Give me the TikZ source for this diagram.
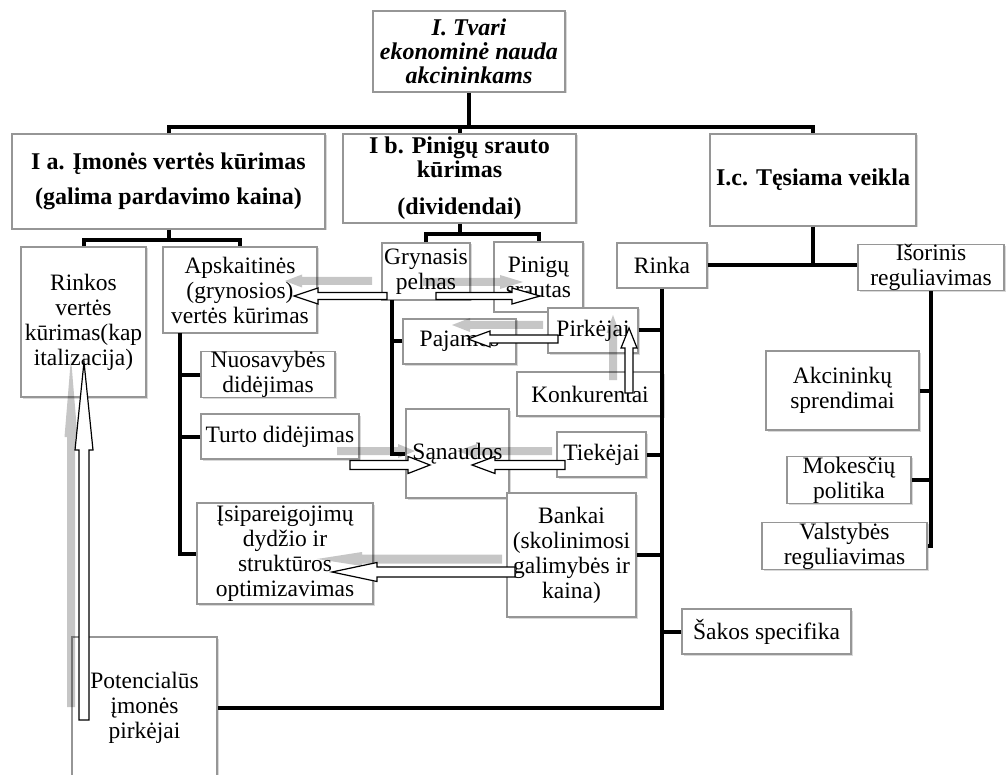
\documentclass[tikz,border=0pt]{standalone}
\usepackage{fontspec}
\setmainfont{Liberation Serif}
\usetikzlibrary{shadows}
\definecolor{greyarr}{RGB}{198,198,198}
\definecolor{boxline}{RGB}{150,150,150}
\newcommand{\rtxt}{\fontsize{23.5}{25}\selectfont}
\newcommand{\htxt}{\fontsize{24}{24}\selectfont\bfseries}
\newcommand{\harr}[7]{\path[#1] (#2,#5-#6) -- (#3,#5-#6) -- (#3,#5-#7) -- (#4,#5) -- (#3,#5+#7) -- (#3,#5+#6) -- (#2,#5+#6) -- cycle;}
\newcommand{\varr}[7]{\path[#1] (#5-#6,#2) -- (#5-#6,#3) -- (#5-#7,#3) -- (#5,#4) -- (#5+#7,#3) -- (#5+#6,#3) -- (#5+#6,#2) -- cycle;}
\tikzset{
  box/.style={draw=boxline, line width=1.2pt, fill=white, inner sep=0pt, align=center, font=\rtxt,
    drop shadow={shadow xshift=1.5pt, shadow yshift=-1.5pt, opacity=0.3}},
  hbox/.style={box, font=\htxt},
  conn/.style={line width=4pt, black, line join=miter},
  garrow/.style={fill=greyarr, blend mode=multiply},
  warrow/.style={draw=black, fill=white, line width=1.2pt, line join=miter}
}
\begin{document}
\begin{tikzpicture}[x=1pt,y=-1pt]
\useasboundingbox (0,0) rectangle (1006,775);
% nodes
\node[hbox, font=\htxt\itshape, minimum width=192pt, minimum height=81pt] (top) at (469,51.5) {I. Tvari\\ekonominė nauda\\akcininkams};
\node[hbox, minimum width=313pt, minimum height=95pt] (Ia) at (168.5,181.5) {I a. Įmonės vertės kūrimas\\[11pt](galima pardavimo kaina)};
\node[hbox, minimum width=233pt, minimum height=89pt] (Ib) at (459.5,178.5) {I b. Pinigų srauto\\kūrimas\\[13pt](dividendai)};
\node[hbox, minimum width=206pt, minimum height=92pt] (Ic) at (813,180) {I.c. Tęsiama veikla};
\node[box, minimum width=125pt, minimum height=150pt] (Rinkos) at (83.5,322) {Rinkos\\vertės\\kūrimas(kap\\italizacija)};
\node[box, minimum width=154pt, minimum height=86pt] (Apsk) at (240,290) {Apskaitinės\\(grynosios)\\vertės kūrimas};
\node[box, minimum width=134pt, minimum height=45pt] (Nuos) at (268,374.5) {Nuosavybės\\didėjimas};
\node[box, minimum width=158pt, minimum height=45pt] (Turto) at (280,436.5) {Turto didėjimas};
\node[box, minimum width=176pt, minimum height=101pt] (Isip) at (285,553.5) {Įsipareigojimų\\dydžio ir\\struktūros\\optimizavimas};
\node[box, minimum width=145pt, minimum height=142pt] (Pot) at (144.5,708) {Potencialūs\\įmonės\\pirkėjai};
\node[box, minimum width=88pt, minimum height=57pt] (Gryn) at (426,271.5) {Grynasis\\pelnas};
\node[box, minimum width=89pt, minimum height=70pt] (Pin) at (538.5,277) {Pinigų\\srautas};
\node[box, minimum width=113pt, minimum height=45pt] (Paj) at (459.5,341.5) {Pajamos};
\node[box, minimum width=103pt, minimum height=89pt] (San) at (457.5,453.5) {Sąnaudos};
\node[box, minimum width=90pt, minimum height=45pt] (Rinka) at (662,265.5) {Rinka};
\node[box, minimum width=90pt, minimum height=45pt] (Pirk) at (593,330.5) {Pirkėjai};
\node[box, minimum width=146pt, minimum height=44pt] (Konk) at (590,394) {Konkurentai};
\node[box, minimum width=89pt, minimum height=45pt] (Tiek) at (601.5,454.5) {Tiekėjai};
\node[box, minimum width=129pt, minimum height=124pt] (Bank) at (571.5,555) {Bankai\\(skolinimosi\\galimybės ir\\kaina)};
\node[box, minimum width=169pt, minimum height=45pt] (Sakos) at (766.5,631.5) {Šakos specifika};
\node[box, minimum width=146pt, minimum height=45pt] (Isor) at (931,267.5) {Išorinis\\reguliavimas};
\node[box, minimum width=153pt, minimum height=79pt] (Akc) at (842.5,390.5) {Akcininkų\\sprendimai};
\node[box, minimum width=124pt, minimum height=44pt] (Mok) at (849,480) {Mokesčių\\politika};
\node[box, minimum width=165pt, minimum height=46pt] (Valst) at (844.5,546) {Valstybės\\reguliavimas};
% connectors
\coordinate (b1) at (469,127);
\coordinate (b2) at (168.5,240);
\coordinate (b3) at (459.5,234);
\coordinate (a1) at (180,333);
\coordinate (g1) at (392,300);
\draw[conn] (top.south) -- (b1);
\draw[conn] (Ia.north) |- (b1) -| (Ic.north);
\draw[conn] (Ib.north) -- (Ib.north |- b1);
\draw[conn] (Ia.south) -- (b2);
\draw[conn] (Rinkos.north) |- (b2) -| (Apsk.north);
\draw[conn] (Ib.south) -- (b3);
\draw[conn] (Gryn.north) |- (b3) -| (Pin.north);
\draw[conn] (Ic.south) |- (Rinka.east);
\draw[conn] (Rinka.east) -- (Rinka.east -| Isor.west);
\draw[conn] (a1) |- (Isip.west);
\draw[conn] (Nuos.west) -- (Nuos.west -| a1);
\draw[conn] (Turto.west) -- (Turto.west -| a1);
\draw[conn] (g1) |- (San.west);
\draw[conn] (Paj.west) -- (Paj.west -| g1);
\draw[conn] (Rinka.south) |- (Pot.east);
\draw[conn] (Pirk.east) -- (Pirk.east -| Rinka.south);
\draw[conn] (Tiek.east) -- (Tiek.east -| Rinka.south);
\draw[conn] (Bank.east) -- (Bank.east -| Rinka.south);
\draw[conn] (Sakos.west) -- (Sakos.west -| Rinka.south);
\draw[conn] (Isor.south) |- (Valst.east);
\draw[conn] (Akc.east) -- (Akc.east -| Isor.south);
\draw[conn] (Mok.east) -- (Mok.east -| Isor.south);
% grey shadow arrows
\harr{garrow}{372}{302}{285}{281}{4}{6.5}
\harr{garrow}{423}{500}{523}{282}{4}{7}
\harr{garrow}{543}{470}{452}{325}{4}{7}
\varr{garrow}{380}{333}{315}{613}{4}{6.5}
\harr{garrow}{337}{398}{415}{451}{4}{7}
\harr{garrow}{552}{477}{457}{451}{4}{7}
\harr{garrow}{502}{362}{317}{559}{4.5}{7}
\varr{garrow}{707}{437}{358}{71}{4}{6.5}
% white hollow arrows
\harr{warrow}{387}{318}{294}{296}{3.5}{8}
\harr{warrow}{436}{512}{540}{296}{3.5}{8}
\harr{warrow}{558}{490}{468}{339}{4}{8}
\varr{warrow}{393}{348}{328}{629}{4}{8}
\harr{warrow}{350}{408}{430}{465}{4.5}{8.5}
\harr{warrow}{565}{495}{472}{465}{4.5}{8.5}
\harr{warrow}{515}{377}{332}{572}{5}{9.5}
\varr{warrow}{720}{450}{362}{84}{5}{9}
\end{tikzpicture}
\end{document}
